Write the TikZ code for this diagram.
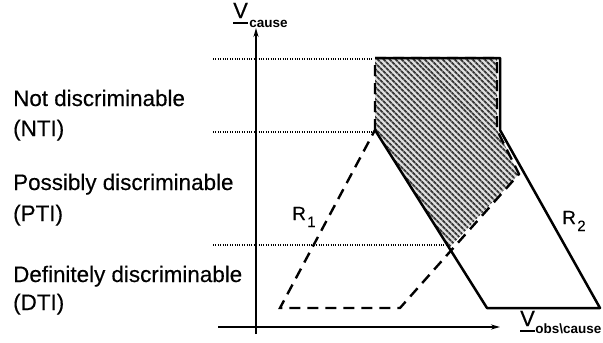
\documentclass[tikz,border=0pt]{standalone}
\usepackage{fontspec}
\setmainfont{Liberation Sans}
\newfontfamily\labfont{Liberation Sans}[FakeBold=0.35]
\usetikzlibrary{arrows.meta,patterns.meta,calc}
\begin{document}
\begin{tikzpicture}[x=1pt,y=-1pt,
  lab/.style={font=\labfont\fontsize{22.4}{26}\selectfont, anchor=base west, inner sep=0pt},
  vlab/.style={font=\labfont\fontsize{22}{26}\selectfont, anchor=base west, inner sep=0pt},
  rlab/.style={font=\labfont\fontsize{19}{20}\selectfont, anchor=base west, inner sep=0pt},
  sub/.style={font=\fontsize{13.5}{16}\selectfont\bfseries, anchor=base west, inner sep=0pt},
  rsub/.style={font=\labfont\fontsize{15}{16}\selectfont, anchor=base west, inner sep=0pt},
  solidline/.style={line width=2.5pt, line join=round},
  dashline/.style={line width=2.4pt, dash pattern=on 11pt off 7pt},
  dotline/.style={line width=1.3pt, dash pattern=on 1pt off 1.4pt},
  axisline/.style={line width=1.5pt, -{Stealth[length=9pt,width=5pt]}},
  uline/.style={line width=1.3pt}]
\useasboundingbox (0,0) rectangle (603,343);

% region corners
\coordinate (A) at (375,58);
\coordinate (B) at (497,58);
\coordinate (C) at (497,130);
\coordinate (D) at (519,174);
\coordinate (E) at (449,248);
\coordinate (F) at (375,130);
\coordinate (G) at (400,308);
\coordinate (H) at (280,308);
\coordinate (B2) at (500,58);
\coordinate (C2) at (500,130);
\coordinate (K) at (600,308);
\coordinate (L) at (487,308);

% hatched overlap
\fill[black!12] (A) -- (B) -- (C) -- (D) -- (E) -- (F) -- cycle;
\fill[pattern={Lines[angle=-45,distance=4pt,line width=2.1pt]}, pattern color=black!78]
  (A) -- (B) -- (C) -- (D) -- (E) -- (F) -- cycle;

% dotted level lines
\coordinate (d1l) at (213,59);  \coordinate (d1r) at (372,59);
\coordinate (d2l) at (213,132); \coordinate (d2r) at (373,132);
\coordinate (d3l) at (213,245); \coordinate (d3r) at (447,245);
\draw[dotline] (d1l) -- (d1r);
\draw[dotline] (d2l) -- (d2r);
\draw[dotline] (d3l) -- (d3r);

% axes
\coordinate (ybot) at (256,334);
\coordinate (ytop) at (256,28);
\coordinate (xl) at (218,327);
\coordinate (xr) at (500,327);
\draw[axisline] (ybot) -- (ytop);
\draw[axisline] (xl) -- (xr);

% R1 (dashed)
\draw[dashline] (F) -- (A) -- (B) -- (C) -- (D) -- (G) -- (H) -- cycle;
% R2 (solid)
\draw[solidline] (A) -- (B2) -- (C2) -- (K) -- (L) -- (F);

% left labels
\node[lab] (nd)  at (13,106) {Not discriminable};
\node[lab] (nti) at (13,136) {(NTI)};
\node[lab] (pd)  at (13,190) {Possibly discriminable};
\node[lab] (pti) at (13,221) {(PTI)};
\node[lab] (dd)  at (13,282) {Definitely discriminable};
\node[lab] (dti) at (13,310) {(DTI)};

% region labels
\node[rlab] (r1) at (292,220) {R};
\node[rsub] (r1s) at ($(r1.base east)+(1,7)$) {1};
\node[rlab] (r2) at (562,224) {R};
\node[rsub] (r2s) at ($(r2.base east)+(1,7)$) {2};

% axis labels
\node[vlab] (vc) at (233,18) {V};
\node[sub] (vcs) at ($(vc.base east)+(1,9)$) {cause};
\draw[uline] ($(vc.base west)+(0,5)$) -- ($(vc.base east)+(0,5)$);

\node[vlab] (vo) at (520,326) {V};
\node[sub] (vos) at ($(vo.base east)+(0,7)$) {obs\textbackslash cause};
\draw[uline] ($(vo.base west)+(0,5)$) -- ($(vo.base east)+(0,5)$);
\end{tikzpicture}
\end{document}
